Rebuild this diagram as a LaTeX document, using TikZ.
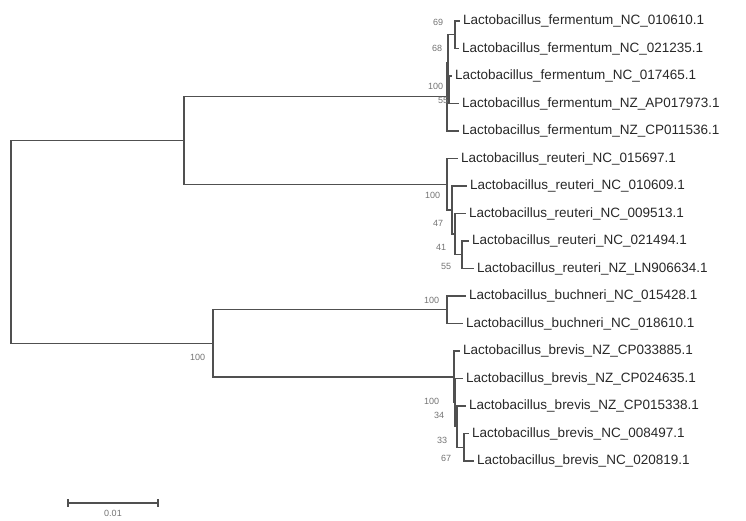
\documentclass[tikz,border=0pt]{standalone}
\usepackage{fontspec}
\setmainfont{Liberation Sans}
\usepackage{tikz}
\definecolor{treegray}{RGB}{80,80,80}
\definecolor{labgray}{RGB}{40,40,40}
\definecolor{bootgray}{RGB}{115,115,115}

\begin{document}
\begin{tikzpicture}[x=1pt,y=1pt,yscale=-1,
  branch/.style={draw=treegray,line width=1.4pt},
  leaf/.style={anchor=west,inner sep=3pt,text=labgray,font=\fontsize{13.5}{16}\selectfont},
  boot/.style={anchor=east,inner sep=0.75pt,text=bootgray,font=\fontsize{9}{10}\selectfont}]
\useasboundingbox (0,0) rectangle (746,520);

%Internal nodes
\coordinate (root) at (11,241.8);
\coordinate (nUp) at (184,140.4);
\coordinate (nLow) at (213,343.3);
\coordinate (nFer) at (447,96.6);
\coordinate (nFerX) at (448,62.25);
\coordinate (nFerA) at (455,34.75);
\coordinate (nFerY) at (449,89.75);
\coordinate (nReu1) at (447,184.3);
\coordinate (nReu2) at (452,210.1);
\coordinate (nReu3) at (455,234.1);
\coordinate (nReu4) at (462,254.75);
\coordinate (nBuc) at (447,309.75);
\coordinate (nBre1) at (454,376.8);
\coordinate (nBre2) at (455,402.6);
\coordinate (nBre3) at (457,426.6);
\coordinate (nBre4) at (464,447.25);

% Text Node
\draw (460,21) node [leaf] (fer1) {Lactobacillus\_fermentum\_NC\_010610.1};
% Text Node
\draw (459,48.5) node [leaf] (fer2) {Lactobacillus\_fermentum\_NC\_021235.1};
% Text Node
\draw (452,76) node [leaf] (fer3) {Lactobacillus\_fermentum\_NC\_017465.1};
% Text Node
\draw (459,103.5) node [leaf] (fer4) {Lactobacillus\_fermentum\_NZ\_AP017973.1};
% Text Node
\draw (459,131) node [leaf] (fer5) {Lactobacillus\_fermentum\_NZ\_CP011536.1};
% Text Node
\draw (458,158.5) node [leaf] (reu1) {Lactobacillus\_reuteri\_NC\_015697.1};
% Text Node
\draw (467,186) node [leaf] (reu2) {Lactobacillus\_reuteri\_NC\_010609.1};
% Text Node
\draw (466,213.5) node [leaf] (reu3) {Lactobacillus\_reuteri\_NC\_009513.1};
% Text Node
\draw (469,241) node [leaf] (reu4) {Lactobacillus\_reuteri\_NC\_021494.1};
% Text Node
\draw (474,268.5) node [leaf] (reu5) {Lactobacillus\_reuteri\_NZ\_LN906634.1};
% Text Node
\draw (466,296) node [leaf] (buc1) {Lactobacillus\_buchneri\_NC\_015428.1};
% Text Node
\draw (463,323.5) node [leaf] (buc2) {Lactobacillus\_buchneri\_NC\_018610.1};
% Text Node
\draw (460,351) node [leaf] (bre1) {Lactobacillus\_brevis\_NZ\_CP033885.1};
% Text Node
\draw (463,378.5) node [leaf] (bre2) {Lactobacillus\_brevis\_NZ\_CP024635.1};
% Text Node
\draw (466,406) node [leaf] (bre3) {Lactobacillus\_brevis\_NZ\_CP015338.1};
% Text Node
\draw (469,433.5) node [leaf] (bre4) {Lactobacillus\_brevis\_NC\_008497.1};
% Text Node
\draw (474,461) node [leaf] (bre5) {Lactobacillus\_brevis\_NC\_020819.1};

%Straight Lines
\draw [branch] (root) |- (nUp);
\draw [branch] (root) |- (nLow);
\draw [branch] (nUp) |- (nFer);
\draw [branch] (nUp) |- (nReu1);
\draw [branch] (nLow) |- (nBuc);
\draw [branch] (nLow) |- (nBre1);
%Straight Lines
\draw [branch] (nFer) |- (nFerX);
\draw [branch] (nFer) |- (fer5.west);
\draw [branch] (nFerX) |- (nFerA);
\draw [branch] (nFerX) |- (nFerY);
\draw [branch] (nFerA) |- (fer1.west);
\draw [branch] (nFerA) |- (fer2.west);
\draw [branch] (nFerY) |- (fer3.west);
\draw [branch] (nFerY) |- (fer4.west);
%Straight Lines
\draw [branch] (nReu1) |- (reu1.west);
\draw [branch] (nReu1) |- (nReu2);
\draw [branch] (nReu2) |- (reu2.west);
\draw [branch] (nReu2) |- (nReu3);
\draw [branch] (nReu3) |- (reu3.west);
\draw [branch] (nReu3) |- (nReu4);
\draw [branch] (nReu4) |- (reu4.west);
\draw [branch] (nReu4) |- (reu5.west);
%Straight Lines
\draw [branch] (nBuc) |- (buc1.west);
\draw [branch] (nBuc) |- (buc2.west);
\draw [branch] (nBre1) |- (bre1.west);
\draw [branch] (nBre1) |- (nBre2);
\draw [branch] (nBre2) |- (bre2.west);
\draw [branch] (nBre2) |- (nBre3);
\draw [branch] (nBre3) |- (bre3.west);
\draw [branch] (nBre3) |- (nBre4);
\draw [branch] (nBre4) |- (bre4.west);
\draw [branch] (nBre4) |- (bre5.west);

% Bootstrap values
\draw (444,22) node [boot] (bFerA) {69};
\draw (443,48) node [boot] (bFerX) {68};
\draw (444,86) node [boot] (bFer) {100};
\draw (449,100) node [boot] (bFerY) {55};
\draw (441,195) node [boot] (bReu1) {100};
\draw (444,223) node [boot] (bReu2) {47};
\draw (447,247) node [boot] (bReu3) {41};
\draw (452,266) node [boot] (bReu4) {55};
\draw (440,300) node [boot] (bBuc) {100};
\draw (206,357) node [boot] (bLow) {100};
\draw (440,401) node [boot] (bBre1) {100};
\draw (445,415) node [boot] (bBre2) {34};
\draw (448,440) node [boot] (bBre3) {33};
\draw (452,458) node [boot] (bBre4) {67};

%Scale bar
\coordinate (sbL) at (68,503);
\coordinate (sbR) at (158,503);
\draw [branch] (sbL) -- (sbR);
\draw [branch] ([yshift=-4pt]sbL) -- ([yshift=4pt]sbL);
\draw [branch] ([yshift=-4pt]sbR) -- ([yshift=4pt]sbR);
% Text Node
\draw (113,513) node [inner sep=0.75pt,text=bootgray,font=\fontsize{9}{10}\selectfont] (sbLab) {0.01};

\end{tikzpicture}
\end{document}
